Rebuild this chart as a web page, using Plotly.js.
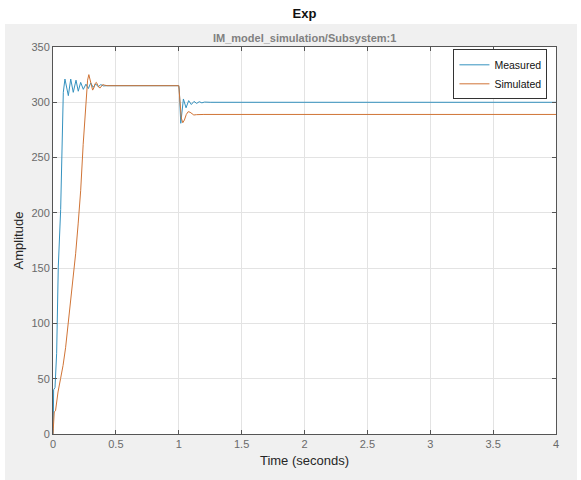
<!DOCTYPE html>
<html>
<head>
<meta charset="utf-8">
<script src="https://cdn.plot.ly/plotly-3.0.1.min.js"></script>
<style>
html,body{margin:0;padding:0;background:#ffffff;width:581px;height:480px;overflow:hidden;}
#bg{position:absolute;left:5px;top:24px;width:572px;height:456px;background:#f0f0f0;}
#chart{position:absolute;left:0;top:0;width:581px;height:480px;}
</style>
</head>
<body>
<div id="bg"></div>
<div id="chart"></div>
<script>
// Measured response (time in seconds, amplitude)
const measuredTime = [0, 0.002, 0.005, 0.016, 0.029, 0.042, 0.061, 0.069, 0.082, 0.095,
  0.122, 0.141, 0.161, 0.183, 0.201, 0.220, 0.241, 0.262, 0.281, 0.300, 0.320, 0.340, 0.360, 0.380, 0.400, 0.430,
  1.000, 1.004, 1.016, 1.037, 1.058, 1.079, 1.100, 1.121, 1.142, 1.163, 1.184, 1.205, 1.226, 1.250, 4.0];
const measuredValue = [0, 5, 40, 42, 73, 151, 203, 251, 309, 321,
  306, 321, 309, 320, 310, 318, 311.7, 316.4, 312.4, 317.5, 313.5, 316.5, 314, 316, 314.8, 315,
  315, 312, 281, 303, 295, 301.5, 298, 300.8, 299, 300.5, 299.5, 300.2, 299.8, 300, 300];

// Simulated response
const simulatedTime = [0, 0.005, 0.010, 0.020, 0.030, 0.040, 0.060, 0.080, 0.100, 0.120, 0.140, 0.160,
  0.180, 0.200, 0.220, 0.240, 0.260, 0.275, 0.285, 0.295, 0.305, 0.315, 0.325, 0.335, 0.345, 0.355,
  0.365, 0.375, 0.385, 0.395, 0.410, 0.430,
  1.000, 1.010, 1.020, 1.032, 1.045, 1.060, 1.075, 1.090, 1.105, 1.120, 1.140, 1.160, 1.200, 4.0];
const simulatedValue = [0, 12, 20, 21, 30, 38, 50, 62, 78, 98, 118, 140,
  163, 190, 220, 262, 300, 320, 325, 320, 313, 311, 313, 317, 318, 316,
  313.5, 313, 314.5, 316, 315.5, 315,
  315, 300, 286, 281.5, 284, 289, 291.5, 291, 289.5, 288.5, 288.8, 289, 289, 289];

const seriesNames = ["Measured", "Simulated"];
const seriesColors = ["#3592bf", "#d07436"];
const xTicks = [0, 0.5, 1, 1.5, 2, 2.5, 3, 3.5, 4];
const xTickLabels = ["0", "0.5", "1", "1.5", "2", "2.5", "3", "3.5", "4"];
const yTicks = [0, 50, 100, 150, 200, 250, 300, 350];
const yTickLabels = ["0", "50", "100", "150", "200", "250", "300", "350"];
const chartTitle = "Exp";
const chartSubtitle = "IM_model_simulation/Subsystem:1";

const FONT = "'Liberation Sans', Arial, Helvetica, sans-serif";

const traces = [
  {x: measuredTime, y: measuredValue, name: seriesNames[0], type: "scatter", mode: "lines",
   line: {color: seriesColors[0], width: 1}},
  {x: simulatedTime, y: simulatedValue, name: seriesNames[1], type: "scatter", mode: "lines",
   line: {color: seriesColors[1], width: 1}}
];

const axisCommon = {
  showline: true, mirror: "ticks", linecolor: "#555555", linewidth: 1,
  ticks: "inside", ticklen: 4, tickcolor: "#555555",
  showgrid: true, gridcolor: "#e3e3e3", gridwidth: 1,
  zeroline: false, tickfont: {family: FONT, size: 11, color: "#6a6a6a"}
};

const layout = {
  width: 581, height: 480,
  paper_bgcolor: "rgba(0,0,0,0)", plot_bgcolor: "#ffffff",
  margin: {l: 53, r: 25, t: 47, b: 46},
  font: {family: FONT},
  showlegend: true,
  title: {text: "<b>" + chartTitle + "</b>",
          font: {family: FONT, size: 13, color: "#111111"},
          x: 0.524, xanchor: "center", y: 0.973, yanchor: "middle", yref: "container"},
  annotations: [{
    text: "<b>" + chartSubtitle + "</b>", xref: "paper", yref: "paper",
    x: 0.5, y: 1.023, xanchor: "center", yanchor: "middle", showarrow: false,
    font: {family: FONT, size: 11, color: "#808080"}
  }],
  xaxis: Object.assign({}, axisCommon, {
    range: [0, 4], tickvals: xTicks, ticktext: xTickLabels,
    title: {text: "Time (seconds)", font: {family: FONT, size: 13, color: "#262626"}, standoff: 6}
  }),
  yaxis: Object.assign({}, axisCommon, {
    range: [0, 350], tickvals: yTicks, ticktext: yTickLabels,
    title: {text: "Amplitude", font: {family: FONT, size: 13, color: "#262626"}, standoff: 4}
  }),
  legend: {
    x: 0.983, y: 0.994, xanchor: "right", yanchor: "top",
    bgcolor: "#ffffff", bordercolor: "#333333", borderwidth: 1,
    font: {family: FONT, size: 10.5, color: "#111111"},
    tracegroupgap: 0
  }
};

Plotly.newPlot("chart", traces, layout, {displayModeBar: false, staticPlot: true});
</script>
</body>
</html>
